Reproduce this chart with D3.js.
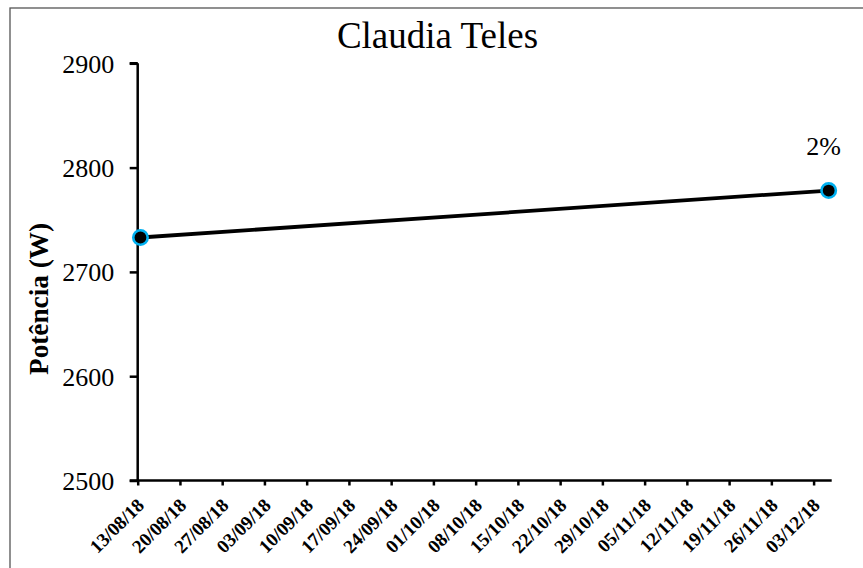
<!DOCTYPE html>
<html><head><meta charset="utf-8">
<script src="https://cdn.jsdelivr.net/npm/d3@7"></script>
<style>
html,body{margin:0;padding:0;background:#fff;}
svg{display:block;}
</style></head>
<body>
<svg id="chart" width="863" height="568"></svg>
<script>
const title = "Claudia Teles";
const yLabel = "Potência (W)";
const dates = ["2018-08-13T11:00:00Z", "2018-12-05T12:00:00Z"];
const values = [2733, 2778];
const changeLabel = "2%";
const yTicks = [2500, 2600, 2700, 2800, 2900];
const xTickStart = "2018-08-13T00:00:00Z";
const xTickEnd = "2018-12-03T00:00:00Z";
const xDomain = ["2018-08-13T00:00:00Z", "2018-12-06T00:00:00Z"];

const svg = d3.select("#chart");
const serif = "'Liberation Serif','Times New Roman',serif";

// outer border
svg.append("rect").attr("x", 10).attr("y", 8).attr("width", 900).attr("height", 600)
  .attr("fill", "none").attr("stroke", "#555").attr("stroke-width", 1.3);

const x = d3.scaleUtc().domain(xDomain.map(d => new Date(d))).range([137.7, 831.7]);
const y = d3.scaleLinear().domain([2500, 2900]).range([480.5, 63.3]);

// title
svg.append("text").attr("x", 437.5).attr("y", 48).attr("text-anchor", "middle")
  .attr("font-family", serif).attr("font-size", 37).attr("fill", "#000").text(title);

// y axis
const yAxis = svg.append("g").attr("transform", "translate(137.7,0)")
  .call(d3.axisLeft(y).tickValues(yTicks).tickSize(8).tickFormat(d3.format("d")));
yAxis.select(".domain").attr("stroke", "#000").attr("stroke-width", 2.5)
  .attr("d", `M0,${y(2900)}H-8M0,${y(2900)}V${y(2500)}`);
yAxis.selectAll(".tick line").attr("stroke", "#000").attr("stroke-width", 2.5);
yAxis.selectAll(".tick text").attr("font-family", serif).attr("font-size", 26)
  .attr("fill", "#000").attr("x", -23.5).attr("dy", null).attr("y", 9);

// x axis
const weekTicks = d3.utcMonday.every(1).range(new Date(xTickStart), new Date(new Date(xTickEnd).getTime() + 1));
const xAxis = svg.append("g").attr("transform", "translate(0,480.5)")
  .call(d3.axisBottom(x).tickValues(weekTicks).tickSize(5).tickSizeOuter(0).tickFormat(d3.utcFormat("%d/%m/%y")));
xAxis.select(".domain").attr("stroke", "#000").attr("stroke-width", 2.5)
  .attr("d", `M${137.7 - 8},0H${x(new Date(xDomain[1]))}`);
xAxis.selectAll(".tick line").attr("stroke", "#000").attr("stroke-width", 2.5);
xAxis.selectAll(".tick text").attr("font-family", serif).attr("font-size", 19)
  .attr("font-weight", "bold").attr("fill", "#000")
  .attr("text-anchor", "end").attr("dy", null).attr("y", null)
  .attr("transform", "translate(7,26) rotate(-45)");

// y axis title
svg.append("text").attr("transform", "translate(48,299) rotate(-90)")
  .attr("text-anchor", "middle").attr("font-family", serif).attr("font-weight", "bold")
  .attr("font-size", 27).attr("textLength", 152).attr("lengthAdjust", "spacingAndGlyphs")
  .attr("fill", "#000").text(yLabel);

// data
const data = dates.map((d, i) => ({ date: new Date(d), value: values[i] }));
svg.append("path").datum(data)
  .attr("d", d3.line().x(d => x(d.date)).y(d => y(d.value)))
  .attr("fill", "none").attr("stroke", "#000").attr("stroke-width", 3.8);
svg.selectAll("circle.pt").data(data).join("circle").attr("class", "pt")
  .attr("cx", d => x(d.date)).attr("cy", d => y(d.value)).attr("r", 7.2)
  .attr("fill", "#000").attr("stroke", "#00b0f0").attr("stroke-width", 2.6);

// change label
const last = data[data.length - 1];
svg.append("text").attr("x", x(last.date) - 5).attr("y", y(last.value) - 36)
  .attr("text-anchor", "middle").attr("font-family", serif).attr("font-size", 26)
  .attr("fill", "#000").text(changeLabel);
</script>
</body></html>
